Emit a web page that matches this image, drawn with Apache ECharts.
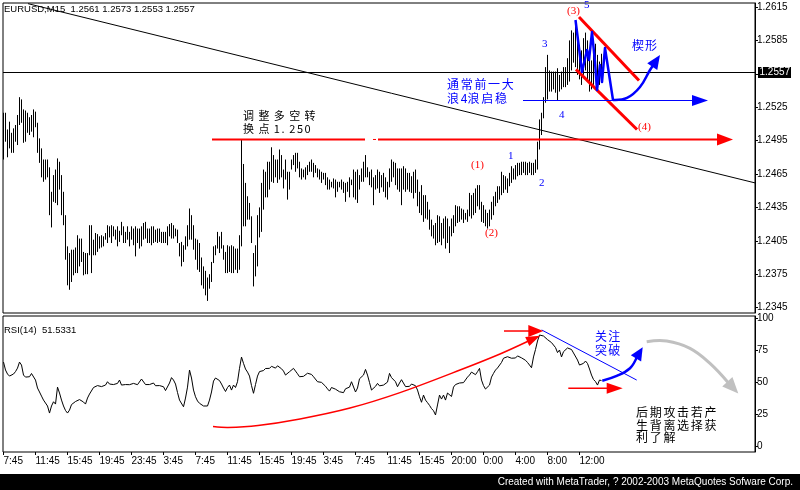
<!DOCTYPE html>
<html><head><meta charset="utf-8">
<script src="https://cdn.jsdelivr.net/npm/echarts@6/dist/echarts.min.js"></script>
<style>html,body{margin:0;padding:0;background:#fff}#c{width:800px;height:490px}</style>
</head><body><div id="c"></div>
<script>
// ---------- DATA ----------
const symbolName = 'EURUSD,M15';
const lastOHLC = ['1.2561', '1.2573', '1.2553', '1.2557'];
const lastClose = 1.2557;
const rsiName = 'RSI(14)';
const rsiLast = '51.5331';

const barHigh = [
1.2520,1.2520,1.2505,1.2512,1.2502,1.2506,1.2509,1.2518,1.2534,1.2532,
1.2523,1.2522,1.2520,1.2516,1.2518,1.2523,1.2521,1.2511,1.2497,1.2488,
1.2478,1.2478,1.2478,1.2471,1.2449,1.2464,1.2469,1.2479,1.2476,1.2464,
1.2449,1.2428,1.2400,1.2394,1.2397,1.2397,1.2399,1.2410,1.2407,1.2407,
1.2395,1.2394,1.2394,1.2419,1.2419,1.2406,1.2412,1.2411,1.2409,1.2410,
1.2409,1.2412,1.2419,1.2418,1.2419,1.2418,1.2415,1.2418,1.2414,1.2422,
1.2418,1.2413,1.2418,1.2413,1.2418,1.2416,1.2418,1.2416,1.2416,1.2418,
1.2421,1.2422,1.2416,1.2416,1.2418,1.2418,1.2415,1.2416,1.2416,1.2413,
1.2413,1.2413,1.2418,1.2420,1.2421,1.2419,1.2416,1.2415,1.2403,1.2404,
1.2401,1.2409,1.2419,1.2434,1.2428,1.2419,1.2407,1.2406,1.2403,1.2390,
1.2382,1.2378,1.2372,1.2375,1.2386,1.2400,1.2401,1.2413,1.2409,1.2413,
1.2401,1.2395,1.2401,1.2400,1.2401,1.2400,1.2398,1.2398,1.2410,1.2496,
1.2474,1.2457,1.2445,1.2439,1.2427,1.2394,1.2401,1.2428,1.2435,1.2457,
1.2469,1.2467,1.2476,1.2476,1.2489,1.2482,1.2478,1.2478,1.2487,1.2482,
1.2469,1.2478,1.2467,1.2467,1.2478,1.2482,1.2484,1.2484,1.2476,1.2470,
1.2469,1.2471,1.2473,1.2476,1.2478,1.2475,1.2473,1.2470,1.2469,1.2467,
1.2466,1.2466,1.2462,1.2460,1.2458,1.2461,1.2460,1.2458,1.2458,1.2460,
1.2458,1.2457,1.2458,1.2462,1.2460,1.2469,1.2467,1.2469,1.2464,1.2470,
1.2476,1.2482,1.2471,1.2467,1.2469,1.2462,1.2464,1.2469,1.2467,1.2464,
1.2466,1.2462,1.2458,1.2470,1.2478,1.2476,1.2475,1.2470,1.2470,1.2470,
1.2472,1.2470,1.2466,1.2466,1.2463,1.2467,1.2469,1.2460,1.2449,1.2455,
1.2446,1.2446,1.2440,1.2433,1.2424,1.2419,1.2421,1.2428,1.2427,1.2421,
1.2425,1.2427,1.2425,1.2418,1.2425,1.2428,1.2437,1.2436,1.2436,1.2434,
1.2433,1.2430,1.2433,1.2448,1.2446,1.2448,1.2452,1.2455,1.2455,1.2440,
1.2437,1.2433,1.2430,1.2433,1.2440,1.2445,1.2449,1.2454,1.2454,1.2467,
1.2464,1.2463,1.2461,1.2466,1.2472,1.2470,1.2473,1.2475,1.2475,1.2476,
1.2476,1.2476,1.2475,1.2476,1.2475,1.2475,1.2478,1.2494,1.2514,1.2520,
1.2534,1.2561,1.2572,1.2558,1.2557,1.2557,1.2557,1.2560,1.2554,1.2557,
1.2561,1.2561,1.2569,1.2585,1.2594,1.2592,1.2603,1.2594,1.2581,1.2576,
1.2587,1.2592,1.2585,1.2572,1.2567,1.2576,1.2582,1.2572,1.2566,1.2573
];
const barLow = [
1.2478,1.2494,1.2480,1.2488,1.2484,1.2484,1.2494,1.2491,1.2509,1.2511,
1.2493,1.2494,1.2502,1.2500,1.2503,1.2498,1.2507,1.2484,1.2475,1.2462,
1.2458,1.2460,1.2462,1.2428,1.2417,1.2440,1.2439,1.2437,1.2451,1.2428,
1.2419,1.2388,1.2365,1.2361,1.2368,1.2374,1.2376,1.2376,1.2382,1.2386,
1.2374,1.2375,1.2375,1.2392,1.2376,1.2392,1.2392,1.2395,1.2398,1.2399,
1.2400,1.2406,1.2403,1.2408,1.2403,1.2409,1.2406,1.2400,1.2404,1.2410,
1.2403,1.2403,1.2406,1.2400,1.2406,1.2401,1.2391,1.2403,1.2398,1.2400,
1.2406,1.2407,1.2403,1.2403,1.2401,1.2403,1.2404,1.2403,1.2404,1.2403,
1.2403,1.2403,1.2401,1.2409,1.2407,1.2407,1.2409,1.2403,1.2391,1.2382,
1.2386,1.2397,1.2400,1.2406,1.2406,1.2397,1.2388,1.2379,1.2377,1.2365,
1.2362,1.2356,1.2351,1.2362,1.2368,1.2385,1.2392,1.2398,1.2394,1.2398,
1.2388,1.2376,1.2376,1.2377,1.2376,1.2376,1.2379,1.2376,1.2379,1.2400,
1.2418,1.2418,1.2424,1.2424,1.2403,1.2364,1.2373,1.2382,1.2408,1.2413,
1.2433,1.2444,1.2444,1.2451,1.2458,1.2457,1.2462,1.2457,1.2460,1.2462,
1.2452,1.2460,1.2442,1.2451,1.2469,1.2473,1.2467,1.2470,1.2462,1.2460,
1.2462,1.2460,1.2464,1.2467,1.2467,1.2462,1.2466,1.2462,1.2460,1.2457,
1.2460,1.2455,1.2451,1.2451,1.2453,1.2452,1.2444,1.2449,1.2453,1.2451,
1.2448,1.2440,1.2449,1.2444,1.2455,1.2444,1.2442,1.2439,1.2451,1.2458,
1.2458,1.2462,1.2462,1.2455,1.2453,1.2437,1.2451,1.2452,1.2448,1.2453,
1.2449,1.2444,1.2442,1.2453,1.2458,1.2462,1.2455,1.2451,1.2449,1.2437,
1.2451,1.2449,1.2451,1.2449,1.2448,1.2443,1.2448,1.2436,1.2430,1.2428,
1.2422,1.2425,1.2424,1.2415,1.2409,1.2407,1.2401,1.2403,1.2404,1.2401,
1.2407,1.2398,1.2403,1.2394,1.2409,1.2412,1.2418,1.2421,1.2422,1.2424,
1.2421,1.2424,1.2422,1.2427,1.2425,1.2428,1.2430,1.2436,1.2433,1.2422,
1.2421,1.2418,1.2416,1.2418,1.2424,1.2428,1.2436,1.2439,1.2442,1.2446,
1.2448,1.2451,1.2448,1.2454,1.2457,1.2460,1.2460,1.2463,1.2464,1.2464,
1.2466,1.2464,1.2464,1.2466,1.2464,1.2464,1.2466,1.2469,1.2487,1.2500,
1.2515,1.2529,1.2532,1.2539,1.2539,1.2541,1.2538,1.2531,1.2539,1.2541,
1.2543,1.2543,1.2545,1.2548,1.2558,1.2565,1.2561,1.2554,1.2550,1.2545,
1.2554,1.2558,1.2550,1.2539,1.2541,1.2545,1.2550,1.2542,1.2545,1.2553
];
const rsiValues = [
65.9,59.7,56.6,55.0,54.6,56.6,58.5,61.2,65.9,63.6,
55.8,54.2,55.4,54.5,57.0,56.7,51.9,45.7,42.6,39.4,
36.3,34.8,31.7,26.2,31.7,35.0,33.2,46.4,41.8,36.3,
31.7,28.2,26.2,28.5,32.8,34.0,35.2,35.2,36.7,36.3,
34.8,33.2,37.9,41.0,41.0,46.1,46.8,47.6,47.6,46.8,
47.2,48.0,50.6,48.8,48.8,48.4,48.0,49.3,51.9,48.0,
49.3,48.4,48.3,48.3,48.4,49.3,48.6,48.3,49.3,52.7,
52.3,48.4,48.0,48.4,48.3,49.6,47.5,48.0,47.6,47.2,
46.7,43.7,44.9,49.6,53.8,51.9,48.8,42.2,36.3,35.9,
31.1,37.9,46.4,59.7,53.5,44.1,38.9,35.6,33.8,32.7,
31.7,30.5,31.7,36.3,42.6,51.1,53.5,54.5,51.5,48.8,
45.7,43.0,46.1,48.0,44.1,48.0,46.1,50.6,61.0,69.8,
64.9,60.5,58.1,55.0,47.6,41.6,48.4,55.0,58.5,59.3,
59.3,60.9,59.7,61.0,62.6,63.0,61.2,63.0,61.5,60.7,
58.9,55.8,56.2,58.4,59.7,61.0,58.9,56.8,54.5,54.5,
54.8,55.9,57.2,58.4,56.3,54.5,53.0,50.6,50.6,50.1,
49.3,47.1,45.0,43.3,46.1,44.9,44.8,44.7,42.8,43.9,
42.1,45.1,45.3,46.4,50.6,50.3,42.6,45.7,52.9,54.1,
55.8,60.2,55.8,50.0,44.1,42.8,47.0,49.3,47.4,47.2,
48.0,47.2,50.3,57.1,53.8,54.5,50.6,46.7,49.6,52.2,
50.7,46.8,48.0,47.0,48.8,49.9,47.5,44.1,38.9,34.6,
40.2,36.3,34.3,32.2,29.7,28.0,24.7,32.5,40.2,37.1,
40.2,36.3,41.8,42.8,39.1,46.4,48.4,49.6,49.6,48.8,
49.9,48.4,54.2,55.8,58.1,57.0,56.1,58.4,61.0,51.9,
47.6,44.9,43.7,48.0,54.2,57.1,59.7,61.3,62.1,65.6,
68.9,69.0,70.1,69.2,68.9,68.9,69.1,70.7,70.7,69.2,
68.2,67.3,65.6,63.6,61.5,69.9,75.7,82.3,87.0,88.1,
86.2,85.4,83.4,84.4,81.1,81.5,77.2,73.3,75.3,69.9,
74.0,73.0,76.9,78.4,75.7,73.0,73.3,67.5,63.6,63.2,
64.9,66.7,64.8,60.5,55.8,52.3,50.7,48.0,51.9,51.5
];

const timeTickIndex = [0,16,32,48,64,80,96,112,128,144,160,176,192,208,224,240,256,272,288];
const timeTickLabels = ['7:45','11:45','15:45','19:45','23:45','3:45','7:45','11:45','15:45','19:45','3:45','7:45','11:45','15:45','20:00','0:00','4:00','8:00','12:00'];
const priceTicks = [1.2345,1.2375,1.2405,1.2435,1.2465,1.2495,1.2525,1.2555,1.2585,1.2615];
const priceLabels = [1.2345,1.2375,1.2405,1.2435,1.2465,1.2495,1.2525,1.2585,1.2615];
const rsiTicks = [0,25,50,75,100];

// drawn annotations, in (bar index, price) / (bar index, RSI) units
const trendLine = [[12.25,1.2618],[375.75,1.2457]];
const resistanceLeft = [[104.25,1.2496],[180.75,1.2496]];
const resistanceGap = [[184.75,1.2496],[186.25,1.2496]];
const resistanceRight = [[187.25,1.2496],[364.75,1.2496]];
const wedgeUpper = [[287.75,1.2606],[317.75,1.2549]];
const wedgeLower = [[286.25,1.2559],[316.75,1.2505]];
const wave4Line = [[259.75,1.2531],[352.25,1.2531]];
const waveZigzag = [[286,1.26033],[289.25,1.25566],[291.75,1.25764],[292.75,1.25674],[294.25,1.25925],[295.75,1.25656],[296.75,1.25404],[298.25,1.25629],[299.25,1.25476],[300.75,1.25782],[304.75,1.25315]];
const breakoutCurve = [[304.75,1.25315],[311.75,1.25333],[318.25,1.25431],[323.25,1.25584],[328.25,1.25719]];
const rsiUpCurve = [[104.75,15.7],[112.25,15.0],[127.25,16.5],[148.25,21.6],[173.25,30.1],[198.25,42.1],[228.25,59.7],[248.25,72.2],[268.25,86.4]];
const rsiPeakArrow = [[250.25,90.1],[269.9,90.1]];
const rsiDownTrend = [[269.1,90.9],[316.6,51.9]];
const rsiLowArrow = [[282.4,45.5],[309.6,45.5]];
const rsiBreakArrow = [[299.4,51.4],[306.6,55.1],[313.25,61.1],[319.6,77.5]];
const rsiGrayArrow = [[321.6,81.8],[331.6,82.3],[343.25,76.6],[353.25,64.9],[367.4,41.5]];

const waveLabelsRed = [[281.75,1.26114,'(3)'],[317.25,1.25068,'(4)'],[233.75,1.24726,'(1)'],[240.75,1.24116,'(2)']];
const waveLabelsBlue = [[252.25,1.24807,'1'],[267.75,1.24565,'2'],[269.25,1.25818,'3'],[277.75,1.25175,'4'],[290.25,1.26163,'5']];
const noteTurn = [[119.75,1.25175,'调整多空转'],[119.75,1.25054,'换点1.250']];
const noteWave4 = [[221.75,1.25454,'通常前一大'],[221.75,1.25333,'浪4浪启稳']];
const noteWedge = [[314.25,1.25809,'楔形']];
const noteRsiBreak = [[295.75,85.8,'关注'],[295.75,75.3,'突破']];
const noteRsiDiverge = [[316.25,27.0,'后期攻击若产'],[316.25,16.9,'生背离选择获'],[316.25,7.6,'利了解']];

// ---------- RENDER ----------
const LAT = '"Liberation Sans", Arial, sans-serif';
const SERIF = '"Liberation Serif", "Times New Roman", serif';
const CJK = '"Noto Sans CJK SC", sans-serif';
const RED = '#ff0000', BLUE = '#0000ff', GRAY = '#c0c0c0';

function lineItem(pts, color, width, opt) { return Object.assign({pts, color, width}, opt || {}); }
function textItems(list, color, size, family, adv) {
  return list.map(t => ({at: [t[0], t[1]], text: t[2], color, size, family, adv}));
}

function annoRenderer(items) {
  return function (params, api) {
    const children = [];
    const cs = params.coordSys;
    items.forEach(it => {
      if (it.hline !== undefined) {
        const p = api.coord([0, it.hline]);
        const y = Math.round(p[1]) + 0.5;
        children.push({type: 'line', z2: 3, shape: {x1: cs.x, y1: y, x2: cs.x + cs.width, y2: y},
          style: {stroke: '#000', lineWidth: 1}});
        const bx = cs.x + cs.width + 3;
        children.push({type: 'rect', z2: 7, shape: {x: bx, y: y - 5.5, width: 33, height: 11},
          style: {fill: '#000'}});
        children.push({type: 'text', z2: 8, x: bx + 1.5, y: y,
          style: {text: it.label, fill: '#fff', font: '10px ' + LAT, align: 'left', verticalAlign: 'middle'}});
      } else if (it.pts) {
        const px = it.pts.map(p => api.coord(p));
        let linePts = px;
        if (it.arrow) {
          const n = px.length, tip = px[n - 1], prev = px[n - 2];
          let dx = tip[0] - prev[0], dy = tip[1] - prev[1];
          const L = Math.hypot(dx, dy) || 1; dx /= L; dy /= L;
          const len = it.arrow[0], hw = it.arrow[1];
          const bx = tip[0] - dx * len, by = tip[1] - dy * len;
          children.push({type: 'polygon', z2: 5,
            shape: {points: [tip, [bx - dy * hw, by + dx * hw], [bx + dy * hw, by - dx * hw]]},
            style: {fill: it.color}});
          linePts = px.slice(0, n - 1).concat([[bx + dx * 2, by + dy * 2]]);
        }
        children.push({type: 'polyline', z2: 4,
          shape: {points: linePts, smooth: it.smooth || 0},
          style: {stroke: it.color, lineWidth: it.width, fill: null, lineJoin: 'round', lineCap: 'butt'}});
      } else {
        const p = api.coord(it.at);
        const font = it.size + 'px ' + it.family;
        if (it.adv) {
          let x = p[0];
          for (const ch of it.text) {
            children.push({type: 'text', z2: 6, x: x, y: p[1],
              style: {text: ch, fill: it.color, font, align: 'left', verticalAlign: 'middle'}});
            x += /[\x00-\x7f]/.test(ch) ? it.adv * 0.5 : it.adv;
          }
        } else {
          children.push({type: 'text', z2: 6, x: p[0], y: p[1],
            style: {text: it.text, fill: it.color, font, align: 'left', verticalAlign: 'middle'}});
        }
      }
    });
    return {type: 'group', children};
  };
}

const mainAnno = [
  {hline: lastClose, label: lastClose.toFixed(4)},
  lineItem(resistanceLeft, RED, 2),
  lineItem(resistanceGap, RED, 1),
  lineItem(resistanceRight, RED, 2, {arrow: [16, 6]}),
  lineItem(wedgeUpper, RED, 3),
  lineItem(wedgeLower, RED, 3),
  lineItem(wave4Line, BLUE, 1, {arrow: [16, 5.5]}),
  lineItem(waveZigzag, BLUE, 2.5),
  lineItem(breakoutCurve, BLUE, 2.5, {smooth: 0.4, arrow: [14, 6]})
].concat(
  textItems(waveLabelsRed, RED, 11, SERIF),
  textItems(waveLabelsBlue, BLUE, 11, SERIF),
  textItems(noteTurn, '#000', 11, CJK, 15.4),
  textItems(noteWave4, BLUE, 12, CJK, 13.7),
  textItems(noteWedge, BLUE, 12, CJK, 13)
);
const rsiAnno = [
  lineItem(rsiUpCurve, RED, 1.5, {smooth: 0.3, arrow: [14, 5]}),
  lineItem(rsiPeakArrow, RED, 1.5, {arrow: [15, 6]}),
  lineItem(rsiDownTrend, BLUE, 1),
  lineItem(rsiLowArrow, RED, 1.5, {arrow: [16, 5.5]}),
  lineItem(rsiBreakArrow, BLUE, 2.5, {smooth: 0.4, arrow: [13, 6]}),
  lineItem(rsiGrayArrow, GRAY, 3, {smooth: 0.4, arrow: [16, 7]})
].concat(
  textItems(noteRsiBreak, BLUE, 12, CJK, 13.3),
  textItems(noteRsiDiverge, '#000', 12, CJK, 13.7)
);

const chart = echarts.init(document.getElementById('c'), null, {renderer: 'canvas'});
const axisBlack = {color: '#000', width: 1};
chart.setOption({
  animation: false,
  backgroundColor: '#fff',
  textStyle: {fontFamily: LAT},
  title: [
    {text: symbolName + '  ' + lastOHLC.join(' '), left: 4, top: 4, padding: 0,
     textStyle: {fontSize: 9.5, fontWeight: 'normal', color: '#000', fontFamily: LAT}},
    {text: rsiName + '  ' + rsiLast, left: 4, top: 325, padding: 0,
     textStyle: {fontSize: 9.5, fontWeight: 'normal', color: '#000', fontFamily: LAT}}
  ],
  grid: [
    {left: 3, top: 3, width: 752, height: 310, show: true, borderColor: '#000', borderWidth: 1},
    {left: 3, top: 316, width: 752, height: 136, show: true, borderColor: '#000', borderWidth: 1}
  ],
  xAxis: [
    {gridIndex: 0, type: 'value', min: -0.25, max: 375.75, show: false, axisLine: {onZero: false}},
    {gridIndex: 1, type: 'value', min: -0.25, max: 375.75,
     axisLine: {show: false, onZero: false}, splitLine: {show: false},
     axisTick: {show: true, customValues: timeTickIndex, length: 3, lineStyle: axisBlack},
     axisLabel: {customValues: timeTickIndex, formatter: v => timeTickLabels[timeTickIndex.indexOf(v)] || '',
       align: 'left', margin: 4, fontSize: 10, color: '#000', fontFamily: LAT}}
  ],
  yAxis: [
    {gridIndex: 0, type: 'value', position: 'right', min: 1.234014, max: 1.261859,
     axisLine: {show: true, onZero: false, lineStyle: axisBlack}, splitLine: {show: false},
     axisTick: {show: true, customValues: priceTicks, length: 3, lineStyle: axisBlack},
     axisLabel: {customValues: priceLabels, formatter: v => v.toFixed(4), margin: 2, fontSize: 10, color: '#000', fontFamily: LAT}},
    {gridIndex: 1, type: 'value', position: 'right', min: -4.13, max: 101.79,
     axisLine: {show: true, onZero: false, lineStyle: axisBlack}, splitLine: {show: false},
     axisTick: {show: true, customValues: rsiTicks, length: 3, lineStyle: axisBlack},
     axisLabel: {customValues: rsiTicks, formatter: v => String(v), margin: 2, fontSize: 10, color: '#000', fontFamily: LAT}}
  ],
  series: [
    {type: 'custom', name: 'bars', xAxisIndex: 0, yAxisIndex: 0, silent: true, z: 2,
     data: barHigh.map((h, i) => [i, barLow[i], h]),
     renderItem: (params, api) => {
       const lo = api.coord([api.value(0), api.value(1)]);
       const hi = api.coord([api.value(0), api.value(2)]);
       return {type: 'line', shape: {x1: lo[0], y1: lo[1], x2: hi[0], y2: hi[1]},
               style: {stroke: '#000', lineWidth: 1}};
     }},
    {type: 'line', name: 'trend', xAxisIndex: 0, yAxisIndex: 0, silent: true, z: 3,
     data: trendLine, showSymbol: false, symbol: 'none',
     lineStyle: {color: '#000', width: 1}},
    {type: 'custom', name: 'mainAnno', xAxisIndex: 0, yAxisIndex: 0, silent: true, z: 5, clip: false,
     data: [[0, 1.25]], renderItem: annoRenderer(mainAnno)},
    {type: 'line', name: 'rsi', xAxisIndex: 1, yAxisIndex: 1, silent: true, z: 2,
     data: rsiValues.map((v, i) => [i, v]), showSymbol: false, symbol: 'none',
     lineStyle: {color: '#000', width: 1}},
    {type: 'custom', name: 'rsiAnno', xAxisIndex: 1, yAxisIndex: 1, silent: true, z: 5, clip: false,
     data: [[0, 50]], renderItem: annoRenderer(rsiAnno)}
  ],
  graphic: [
    {type: 'rect', shape: {x: 0, y: 474, width: 800, height: 16}, style: {fill: '#000'}, z: 10},
    {type: 'text', right: 7, top: 477, z: 11,
     style: {text: 'Created with MetaTrader, ? 2002-2003 MetaQuotes Sofware Corp.', fill: '#fff', font: '10px ' + LAT}}
  ]
});
</script>
</body></html>
